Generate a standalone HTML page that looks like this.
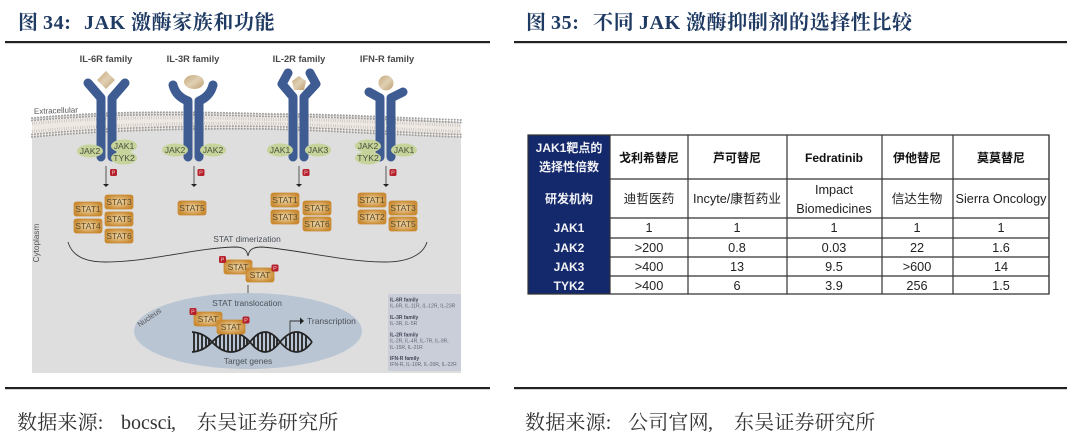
<!DOCTYPE html>
<html lang="zh"><head><meta charset="utf-8"><title>JAK</title>
<style>
html,body{margin:0;padding:0;background:#fff;width:1080px;height:444px;overflow:hidden}
svg{position:absolute;left:0;top:0;display:block}
.blur{filter:blur(.35px)}
.t{font-family:"Liberation Serif","Noto Serif CJK SC",serif;font-weight:700;font-size:20px;fill:#1f3b63;letter-spacing:.6px}
.f{font-family:"Liberation Serif","Noto Serif CJK SC",serif;font-size:20px;fill:#333;letter-spacing:.2px}
.fl{letter-spacing:0}
.fam{font:700 9.3px "Liberation Sans",sans-serif;fill:#484848;text-anchor:middle}
.j{font:8.6px "Liberation Sans",sans-serif;fill:#4a5040;text-anchor:middle}
.st{font:8.6px "Liberation Sans",sans-serif;fill:#5b4a2a;text-anchor:middle}
.d{font:8.4px "Liberation Sans",sans-serif;fill:#4a5058;text-anchor:middle}
.l{font:5px "Liberation Sans",sans-serif;fill:#667}
.lb{font:700 5px "Liberation Sans",sans-serif;fill:#445}
.h{font:700 12px "Liberation Sans","Noto Sans CJK SC",sans-serif;text-anchor:middle;fill:#111}
.w{font:700 12px "Liberation Sans","Noto Sans CJK SC",sans-serif;text-anchor:middle;fill:#f2f2f6}
.c{font:12.7px "Liberation Sans","Noto Sans CJK SC",sans-serif;text-anchor:middle;fill:#222}
</style></head><body>
<svg width="1080" height="444" viewBox="0 0 1080 444" xmlns="http://www.w3.org/2000/svg">
<defs>
<linearGradient id="lg" x1="0" y1="0" x2="1" y2="1"><stop offset="0" stop-color="#c5a677"/><stop offset=".5" stop-color="#e0d0b4"/><stop offset="1" stop-color="#bb9c6e"/></linearGradient>
<radialGradient id="sg" cx=".5" cy=".5" r=".55"><stop offset="0" stop-color="#efd9ad"/><stop offset=".55" stop-color="#dcae68"/><stop offset="1" stop-color="#c98a32"/></radialGradient>
<g id="stat"><rect x="-14" y="-7" width="28" height="14" rx="2.2" fill="url(#sg)" stroke="#c98a32" stroke-width=".8"/></g>
<g id="p"><rect x="-3.500" y="-3.500" width="7" height="7" rx="1.6" fill="#b5202c"/><text y="2.2" text-anchor="middle" font-family="Liberation Sans" font-size="5.5" fill="#f3c9c9">P</text></g>
</defs>
<g class="blur">
<!-- titles -->
<text class="t" x="18" y="29">图</text><text class="t" x="43" y="29">34:</text><text class="t" x="84" y="29">JAK</text><text class="t" x="131" y="29">激酶家族和功能</text>
<text class="t" x="526" y="29">图</text><text class="t" x="551" y="29">35:</text><text class="t" x="593" y="29">不同</text><text class="t" x="639" y="29">JAK</text><text class="t" x="686" y="29">激酶抑制剂的选择性比较</text>
<rect x="5" y="41" width="485" height="2.2" fill="#222"/>
<rect x="514" y="41" width="553" height="2.2" fill="#222"/>
<rect x="5" y="387" width="485" height="2.2" fill="#222"/>
<rect x="514" y="387" width="553" height="2.2" fill="#222"/>
<text class="f" x="17" y="429">数据来源:</text><text class="f fl" x="121" y="429">bocsci</text><text class="f" x="171" y="429">,</text><text class="f" x="197" y="429">东吴证券研究所</text>
<text class="f" x="525" y="429">数据来源:</text><text class="f" x="628" y="429">公司官网</text><text class="f" x="708" y="429">,</text><text class="f" x="734" y="429">东吴证券研究所</text>

<!-- panel -->
<path d="M32,118 C120,110 200,112 270,114 C340,114 400,118 461,122 V373 H32 Z" fill="#dedede"/>
<path d="M32,120 C120,112 200,113 270,115 C340,116 400,120 461,123 V137 C400,135 340,131 270,129 C200,127 100,130 32,137 Z" fill="#efe9e4"/>
<g fill="none" stroke="#9c9c9c" stroke-linecap="round">
<path d="M32,118 C120,110 200,112 270,114 C340,114 400,118 461,120" stroke-width="2" stroke-dasharray="0 3"/>
<path d="M32,120.500 C120,112.500 200,114.500 270,116.500 C340,116.500 400,120.500 461,122.500" stroke-width="2" stroke-dasharray="0 3"/>
<path d="M32,134.500 C100,127.500 200,125.500 270,126.500 C340,128.500 400,132.500 461,134.500" stroke-width="2" stroke-dasharray="0 3"/>
<path d="M32,137 C100,130 200,128 270,129 C340,131 400,135 461,137" stroke-width="2" stroke-dasharray="0 3"/>
</g>
<g fill="none" stroke="#b5b1ae" stroke-width="3" stroke-dasharray=".5 1.8">
<path d="M32,123.500 C120,115.500 200,117.500 270,119.500 C340,119.500 400,123.500 461,125.500"/>
<path d="M32,131.500 C100,124.500 200,122.500 270,123.500 C340,125.500 400,129.500 461,131.500"/>
</g>

<!-- receptors -->
<g fill="none" stroke="#3e5c92" stroke-width="9" stroke-linecap="round" stroke-linejoin="round">
<path d="M88,83 L101,98 V157"/><path d="M125,83 L112,98 V157"/>
<path d="M173,85 C175,93 180,98 188,101 V157"/><path d="M213,85 C211,93 206,98 199,101 V157"/>
<path d="M288,73 L282,84 L293,97 V157"/><path d="M310,73 L316,84 L304,97 V157"/>
<path d="M369,92 L380,98 V157"/><path d="M403,92 L391,98 V157"/>
</g>
<path d="M106,71 L115,80 L106,89 L97,80Z" fill="url(#lg)"/>
<ellipse cx="194" cy="82" rx="10" ry="7" fill="url(#lg)"/>
<path d="M299,76 L306,81 L304,90 L294,90 L292,81Z" fill="url(#lg)"/>
<circle cx="386" cy="83" r="7.5" fill="url(#lg)"/>
<text class="fam" x="106" y="62">IL-6R family</text>
<text class="fam" x="193" y="62">IL-3R family</text>
<text class="fam" x="299" y="62">IL-2R family</text>
<text class="fam" x="387" y="62">IFN-R family</text>
<text x="34" y="114" transform="rotate(-2 34 114)" font-family="Liberation Sans" font-size="8" fill="#555">Extracellular</text>
<text x="39" y="243" transform="rotate(-90 39 243)" text-anchor="middle" font-family="Liberation Sans" font-size="8.2" fill="#555">Cytoplasm</text>

<!-- JAKs -->
<g fill="#c6d39a">
<ellipse cx="90" cy="151" rx="13" ry="6.5"/><ellipse cx="124" cy="146" rx="13" ry="6.5"/><ellipse cx="124" cy="158" rx="13" ry="6.5"/>
<ellipse cx="175" cy="150" rx="13" ry="6.5"/><ellipse cx="213" cy="150" rx="13" ry="6.5"/>
<ellipse cx="280" cy="150" rx="13" ry="6.5"/><ellipse cx="318" cy="150" rx="13" ry="6.5"/>
<ellipse cx="368" cy="146" rx="13" ry="6.5"/><ellipse cx="368" cy="158" rx="13" ry="6.5"/><ellipse cx="404" cy="150" rx="13" ry="6.5"/>
</g>
<text class="j" x="90" y="154">JAK2</text><text class="j" x="124" y="149">JAK1</text><text class="j" x="124" y="161">TYK2</text>
<text class="j" x="175" y="153">JAK2</text><text class="j" x="213" y="153">JAK2</text>
<text class="j" x="280" y="153">JAK1</text><text class="j" x="318" y="153">JAK3</text>
<text class="j" x="368" y="149">JAK2</text><text class="j" x="368" y="161">TYK2</text><text class="j" x="404" y="153">JAK1</text>

<!-- arrows -->
<g stroke="#333" stroke-width=".8"><path d="M106,166V184M194,166V184M299,166V184M386,166V184M248,285V293"/></g>
<g fill="#222"><path d="M103,184h6l-3,3zM191,184h6l-3,3zM296,184h6l-3,3zM383,184h6l-3,3zM245,293h6l-3,3z"/></g>
<use href="#p" x="113.5" y="172.5"/><use href="#p" x="201" y="172.5"/><use href="#p" x="306" y="172.5"/><use href="#p" x="393" y="172.5"/>

<!-- STAT boxes -->
<use href="#stat" x="88" y="209"/><text class="st" x="88" y="212">STAT1</text>
<use href="#stat" x="119" y="202"/><text class="st" x="119" y="205">STAT3</text>
<use href="#stat" x="119" y="219"/><text class="st" x="119" y="222">STAT5</text>
<use href="#stat" x="88" y="226"/><text class="st" x="88" y="229">STAT4</text>
<use href="#stat" x="119" y="236"/><text class="st" x="119" y="239">STAT6</text>
<use href="#stat" x="192" y="208"/><text class="st" x="192" y="211">STAT5</text>
<use href="#stat" x="285" y="200"/><text class="st" x="285" y="203">STAT1</text>
<use href="#stat" x="285" y="217"/><text class="st" x="285" y="220">STAT3</text>
<use href="#stat" x="317" y="208"/><text class="st" x="317" y="211">STAT5</text>
<use href="#stat" x="317" y="224"/><text class="st" x="317" y="227">STAT6</text>
<use href="#stat" x="372" y="200"/><text class="st" x="372" y="203">STAT1</text>
<use href="#stat" x="372" y="217"/><text class="st" x="372" y="220">STAT2</text>
<use href="#stat" x="403" y="208"/><text class="st" x="403" y="211">STAT3</text>
<use href="#stat" x="403" y="224"/><text class="st" x="403" y="227">STAT5</text>

<!-- brace -->
<path d="M68,242 C72,256 85,262 105,262 C150,262 195,248 235,247 C244,247 247,250 248,256 C249,250 252,247 262,247 C300,250 345,262 385,262 C408,262 423,255 427,242" fill="none" stroke="#333" stroke-width=".9"/>
<text class="d" x="247" y="242">STAT dimerization</text>

<!-- dimer -->
<use href="#stat" x="238" y="267"/><use href="#stat" x="260" y="275"/>
<text class="st" x="238" y="270">STAT</text><text class="st" x="260" y="278">STAT</text>
<use href="#p" x="222.5" y="259.5"/><use href="#p" x="275" y="268"/>

<!-- nucleus -->
<ellipse cx="248" cy="331" rx="114" ry="38" fill="#b9c5d3"/>
<text class="d" x="247" y="306">STAT translocation</text>
<text x="149" y="320" transform="rotate(-35 149 317)" text-anchor="middle" font-family="Liberation Sans" font-size="7.5" fill="#555">Nucleus</text>
<!-- DNA -->
<g fill="none" stroke="#222" stroke-width="1.7">
<path d="M192,332 Q204,333 212,342 Q231,362 250,342 Q265,322 280,342 Q297,362 312,342"/>
<path d="M192,352 Q204,351 212,342 Q231,322 250,342 Q265,362 280,342 Q297,322 312,342"/>
</g>
<path d="M194,332V352M198,333V351M202,334.500V349.500M206,337V347M209,339V345M216,338V346M220,335.500V348.500M224,333.500V350.500M228,332V352M232,332V352M236,333V351M240,334V350M244,337V347M247,339V345M254,337.500V346.500M258,334V350M262,332.500V351.500M266,332V352M270,333V351M274,335.500V348.500M277,338.500V345.500M286,337.500V346.500M290,334V350M294,332.500V351.500M298,332V352M302,333V351M306,335.500V348.500" stroke="#222" stroke-width="1.8"/>
<use href="#stat" x="208" y="319"/><use href="#stat" x="231" y="327"/>
<text class="st" x="208" y="322">STAT</text><text class="st" x="231" y="330">STAT</text>
<use href="#p" x="193" y="311.5"/><use href="#p" x="246" y="320"/>
<text class="d" x="248" y="364">Target genes</text>
<path d="M290,333V321H301" fill="none" stroke="#333" stroke-width=".9"/><path d="M300,317.500l4,3.500l-4,3.500z" fill="#222"/>
<text x="307" y="324" font-family="Liberation Sans" font-size="8.5" fill="#4a5058">Transcription</text>

<!-- legend -->
<rect x="388" y="294" width="73" height="77" fill="#c9ced9"/>
<text class="lb" x="390" y="301.500">IL-6R family</text>
<text class="l" x="390" y="307.500">IL-6R, IL-11R, IL-12R, IL-23R</text>
<text class="lb" x="390" y="319">IL-3R family</text>
<text class="l" x="390" y="325">IL-3R, IL-5R</text>
<text class="lb" x="390" y="336.500">IL-2R family</text>
<text class="l" x="390" y="342.500">IL-2R, IL-4R, IL-7R, IL-9R,</text>
<text class="l" x="390" y="349">IL-15R, IL-21R</text>
<text class="lb" x="390" y="360">IFN-R family</text>
<text class="l" x="390" y="366">IFN-R, IL-10R, IL-20R, IL-22R</text>

<!-- table -->
<rect x="528" y="135" width="82" height="159" fill="#14296b"/>
<g stroke="#333" stroke-width="1.2" fill="none">
<path d="M610,135H1049V294H528V135H610"/>
<path d="M610,135V294M688,135V294M787,135V294M882,135V294M953,135V294M1049,135V294"/>
<path d="M610,179H1049M610,218H1049M610,238H1049M610,257H1049M610,276H1049"/>
</g>
<text class="w" x="569" y="152">JAK1靶点的</text><text class="w" x="569" y="171">选择性倍数</text>
<text class="w" x="569" y="203">研发机构</text>
<text class="w" x="569" y="232">JAK1</text><text class="w" x="569" y="252">JAK2</text><text class="w" x="569" y="271">JAK3</text><text class="w" x="569" y="290">TYK2</text>
<text class="h" x="649" y="162">戈利希替尼</text><text class="h" x="737" y="162">芦可替尼</text><text class="h" x="834" y="162">Fedratinib</text><text class="h" x="917" y="162">伊他替尼</text><text class="h" x="1001" y="162">莫莫替尼</text>
<text class="c" x="649" y="203">迪哲医药</text><text class="c" x="737" y="203">Incyte/康哲药业</text>
<text class="c" x="834" y="194">Impact</text><text class="c" x="834" y="213">Biomedicines</text>
<text class="c" x="917" y="203">信达生物</text><text class="c" x="1001" y="203">Sierra Oncology</text>
<text class="c" x="649" y="232">1</text><text class="c" x="737" y="232">1</text><text class="c" x="834" y="232">1</text><text class="c" x="917" y="232">1</text><text class="c" x="1001" y="232">1</text>
<text class="c" x="649" y="252">&gt;200</text><text class="c" x="737" y="252">0.8</text><text class="c" x="834" y="252">0.03</text><text class="c" x="917" y="252">22</text><text class="c" x="1001" y="252">1.6</text>
<text class="c" x="649" y="271">&gt;400</text><text class="c" x="737" y="271">13</text><text class="c" x="834" y="271">9.5</text><text class="c" x="917" y="271">&gt;600</text><text class="c" x="1001" y="271">14</text>
<text class="c" x="649" y="290">&gt;400</text><text class="c" x="737" y="290">6</text><text class="c" x="834" y="290">3.9</text><text class="c" x="917" y="290">256</text><text class="c" x="1001" y="290">1.5</text>
</g>
</svg>
</body></html>
